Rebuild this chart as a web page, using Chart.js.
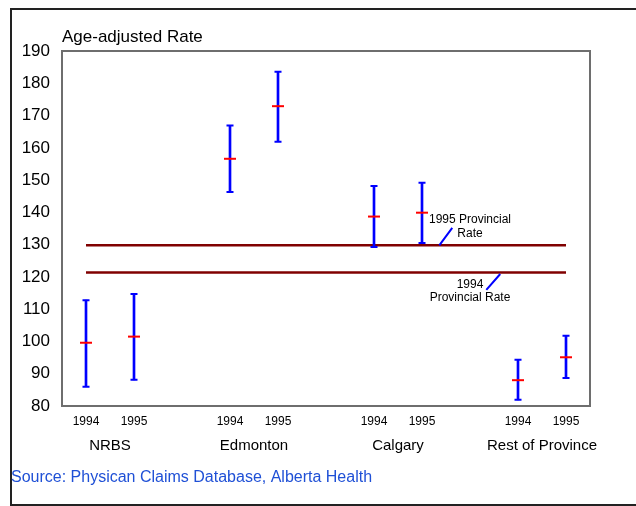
<!DOCTYPE html>
<html>
<head>
<meta charset="utf-8">
<script src="https://cdn.jsdelivr.net/npm/chart.js@4/dist/chart.umd.min.js"></script>
<style>
  html, body { margin: 0; padding: 0; background: #fff; }
  #wrap { width: 636px; height: 506px; }
</style>
</head>
<body>
<div id="wrap"><canvas id="c" width="636" height="506"></canvas></div>
<script>
// ---- Data ----
const categories = ['1994', '1995', '', '1994', '1995', '', '1994', '1995', '', '1994', '1995'];
const groups = ['NRBS', 'Edmonton', 'Calgary', 'Rest of Province'];
const rates = [99.6, 101.5, null, 156.6, 172.9, null, 138.7, 139.9, null, 88.0, 95.1];
const upper = [112.8, 114.7, null, 166.9, 183.6, null, 148.2, 149.2, null, 94.3, 101.8];
const lower = [86.0, 88.1, null, 146.3, 161.9, null, 129.3, 130.5, null, 81.9, 88.7];
const provincialRate1994 = 121.4;
const provincialRate1995 = 129.8;
const yTitle = 'Age-adjusted Rate';
const sourceText = 'Source: Physican Claims Database, Alberta Health';

const FONT = 'Arial, "Liberation Sans", sans-serif';

const whiskers = lower.map((lo, i) => (lo === null ? null : [lo, upper[i]]));
const prov1994Line = categories.map(() => provincialRate1994);
const prov1995Line = categories.map(() => provincialRate1995);

const decor = {
  id: 'decor',
  beforeDraw(chart) {
    const ctx = chart.ctx;
    ctx.save();
    ctx.fillStyle = '#fff';
    ctx.fillRect(0, 0, chart.width, chart.height);
    ctx.strokeStyle = '#222';
    ctx.lineWidth = 2;
    ctx.strokeRect(11, 9, 700, 496);
    ctx.restore();
  },
  beforeDatasetsDraw(chart) {
    const ctx = chart.ctx, a = chart.chartArea;
    ctx.save();
    ctx.strokeStyle = '#6e6e6e';
    ctx.lineWidth = 2;
    ctx.strokeRect(a.left, a.top, a.right - a.left, a.bottom - a.top);
    // y-axis title
    ctx.fillStyle = '#000';
    ctx.font = '17px ' + FONT;
    ctx.textAlign = 'left';
    ctx.textBaseline = 'alphabetic';
    ctx.fillText(yTitle, a.left, a.top - 9);
    ctx.restore();
  },
  afterDraw(chart) {
    const ctx = chart.ctx, x = chart.scales.x, y = chart.scales.y;
    ctx.save();
    // group labels
    ctx.fillStyle = '#000';
    ctx.font = '15px ' + FONT;
    ctx.textAlign = 'center';
    ctx.textBaseline = 'middle';
    groups.forEach((g, i) => {
      const cx = (x.getPixelForValue(3 * i) + x.getPixelForValue(3 * i + 1)) / 2;
      ctx.fillText(g, cx, 446);
    });
    // source
    ctx.fillStyle = '#1f50d6';
    ctx.font = '16px ' + FONT;
    ctx.textAlign = 'left';
    ctx.fillText(sourceText, 11, 478);
    // annotations
    ctx.fillStyle = '#000';
    ctx.font = '12px ' + FONT;
    ctx.textAlign = 'center';
    const ax = x.getPixelForValue(8.0);
    ctx.fillText('1995 Provincial', ax, y.getPixelForValue(137.6));
    ctx.fillText('Rate', ax, y.getPixelForValue(137.6) + 14);
    ctx.fillText('1994', ax, y.getPixelForValue(117.5));
    ctx.fillText('Provincial Rate', ax, y.getPixelForValue(117.5) + 13);
    ctx.strokeStyle = '#0000ff';
    ctx.lineWidth = 2;
    ctx.beginPath();
    ctx.moveTo(x.getPixelForValue(7.36), y.getPixelForValue(provincialRate1995));
    ctx.lineTo(x.getPixelForValue(7.63), y.getPixelForValue(135.2));
    ctx.moveTo(x.getPixelForValue(8.34), y.getPixelForValue(116.0));
    ctx.lineTo(x.getPixelForValue(8.63), y.getPixelForValue(120.9));
    ctx.stroke();
    ctx.restore();
  }
};

new Chart(document.getElementById('c'), {
  data: {
    labels: categories,
    datasets: [
      { type: 'line', label: 'Rate', data: rates, showLine: false, pointStyle: 'line',
        pointRadius: 6, pointHoverRadius: 6, borderColor: '#ff0000', borderWidth: 2 },
      { type: 'line', label: 'Upper', data: upper, showLine: false, pointStyle: 'line',
        pointRadius: 3.5, pointHoverRadius: 3.5, borderColor: '#0000ff', borderWidth: 2 },
      { type: 'line', label: 'Lower', data: lower, showLine: false, pointStyle: 'line',
        pointRadius: 3.5, pointHoverRadius: 3.5, borderColor: '#0000ff', borderWidth: 2 },
      { type: 'bar', label: 'CI', data: whiskers, backgroundColor: '#0000ff',
        borderWidth: 0, barThickness: 2 },
      { type: 'line', label: '1995 Provincial Rate', data: prov1995Line, borderColor: '#800000',
        borderWidth: 2.5, pointRadius: 0, fill: false },
      { type: 'line', label: '1994 Provincial Rate', data: prov1994Line, borderColor: '#800000',
        borderWidth: 2.5, pointRadius: 0, fill: false }
    ]
  },
  options: {
    responsive: false,
    devicePixelRatio: 1,
    animation: false,
    events: [],
    layout: { padding: { left: 0, top: 51, right: 46, bottom: 0 } },
    plugins: { legend: { display: false }, tooltip: { enabled: false } },
    scales: {
      x: {
        type: 'category',
        offset: true,
        grid: { display: false, drawTicks: false },
        border: { display: false },
        ticks: { color: '#000', font: { size: 12, family: FONT }, padding: 8, autoSkip: false, maxRotation: 0 },
        afterFit(s) { s.height = 100; }
      },
      y: {
        min: 80, max: 190,
        grid: { display: false, drawTicks: false },
        border: { display: false },
        ticks: { stepSize: 10, color: '#000', font: { size: 17, family: FONT }, padding: 12 },
        afterFit(s) { s.width = 62; }
      }
    }
  },
  plugins: [decor]
});
</script>
</body>
</html>
